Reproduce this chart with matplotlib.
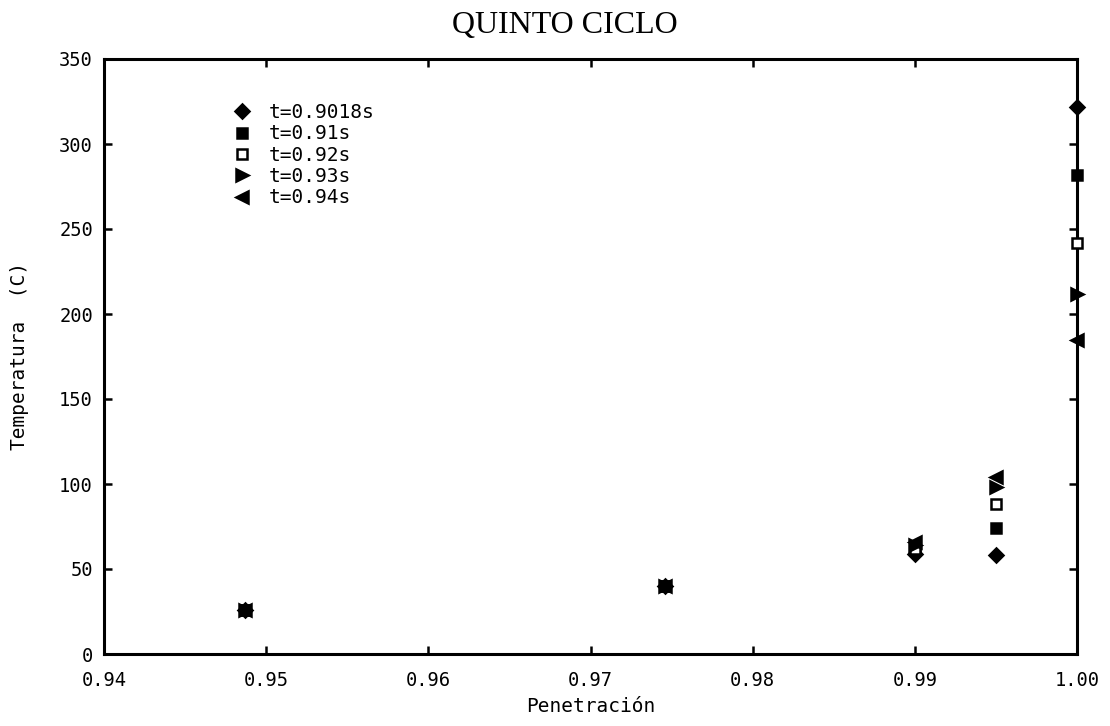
import matplotlib
matplotlib.use("Agg")
import matplotlib.pyplot as plt
import numpy as np

# Data
labels = ["t=0.9018s", "t=0.91s", "t=0.92s", "t=0.93s", "t=0.94s"]
penetracion = [0.9487, 0.9746, 0.990, 0.995, 1.000]
temp_09018 = [26, 40, 59, 58, 322]
temp_091 = [26, 40, 61, 74, 282]
temp_092 = [26, 40, 62, 88, 242]
temp_093 = [26, 40, 64, 98, 212]
temp_094 = [26, 40, 66, 104, 185]
series = [temp_09018, temp_091, temp_092, temp_093, temp_094]
markers = ["D", "s", "s", ">", "<"]
sizes = [7.5, 7.5, 7, 8.5, 8.5]
faces = ["black", "black", "white", "black", "black"]

xticks = [0.94, 0.95, 0.96, 0.97, 0.98, 0.99, 1.00]
xticklabels = ["0.94", "0.95", "0.96", "0.97", "0.98", "0.99", "1.00"]
yticks = [0, 50, 100, 150, 200, 250, 300, 350]

mono = ["DejaVu Sans Mono"]

fig = plt.figure(figsize=(11.1, 7.26), dpi=100)
ax = fig.add_axes([104/1110, 1-654/726, (1077-104)/1110, (654-59)/726])

for vals, m, ms, fc, lab in zip(series, markers, sizes, faces, labels):
    ax.plot(penetracion, vals, linestyle="none", marker=m, markersize=ms,
            markerfacecolor=fc, markeredgecolor="black", markeredgewidth=1.8,
            label=lab, clip_on=False, zorder=3)

ax.set_xlim(0.94, 1.00)
ax.set_ylim(0, 350)
ax.set_xticks(xticks)
ax.set_xticklabels(xticklabels, family=mono, fontsize=13.5)
ax.set_yticks(yticks)
ax.set_yticklabels([str(v) for v in yticks], family=mono, fontsize=13.5)
ax.tick_params(direction="in", length=6, width=1.8, top=True, right=True)
ax.tick_params(axis="x", pad=12)
ax.tick_params(axis="y", pad=8)
for s in ax.spines.values():
    s.set_linewidth(2.2)

ax.set_xlabel("Penetración", family=mono, fontsize=14, va="center")
ax.xaxis.set_label_coords(0.5, (654-706)/595)
ax.set_ylabel("Temperatura  (C)", family=mono, fontsize=14, va="center")
ax.yaxis.set_label_coords((20-104)/973, 0.5)
fig.text(565/1110, 1-33/726, "QUINTO CICLO", family=["Liberation Serif"],
         fontsize=23, ha="center", va="baseline")

leg = ax.legend(loc="upper left", bbox_to_anchor=((232-104)/973, 1-(103-59)/595),
                frameon=False, prop={"family": mono, "size": 14},
                handlelength=1.0, handletextpad=0.9, labelspacing=0.12,
                borderpad=0, borderaxespad=0)

fig.savefig("out.png", dpi=100)
